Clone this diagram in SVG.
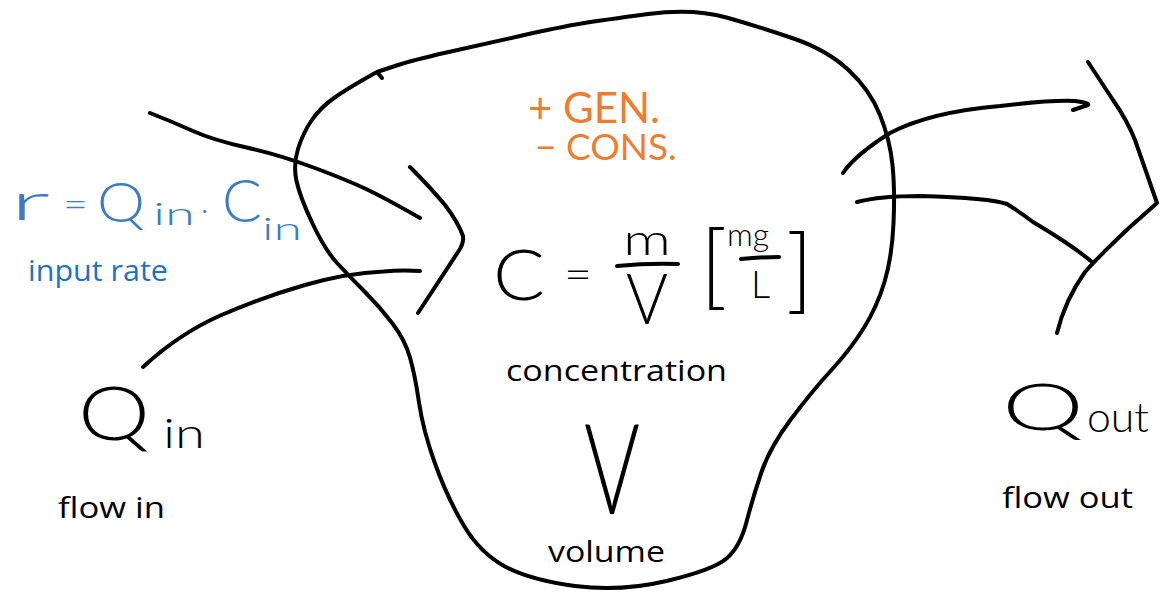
<svg xmlns="http://www.w3.org/2000/svg" width="1160" height="595" viewBox="0 0 1160 595">
<style>
  .ink { fill: none; stroke: #000; stroke-width: 4; stroke-linecap: round; stroke-linejoin: round; }
  .hand { font-family: "Lato", "Noto Sans", sans-serif; font-weight: 300; }
  .hk { fill: #000; }
  .hb { fill: #3c7cc0; }
  .ho { fill: #ed7d31; font-weight: 400; }
  .print { font-family: "Open Sans", "Noto Sans", "Liberation Sans", sans-serif; font-size: 30px; fill: #000; }
  .blue { fill: #1f72c0; }
</style>
<rect width="1160" height="595" fill="#fff"/>

<g id="control-volume">
  <path class="ink" d="M377,72 L395,66 Q413,60 446.5,52.5 Q480,45 520,36 Q560,27 581.5,23.5 Q603,20 648,14 Q693,8 726.5,17.5 Q760,27 793.5,38.5 Q827,50 848.5,70 Q870,90 880,115 Q890,140 892.5,165 Q895,190 893.5,223.5 Q892,257 884.5,282 Q877,307 863.5,328.5 Q850,350 831.5,370 Q813,390 791.5,418.5 Q770,447 761.5,472 Q753,497 746.5,522 Q740,547 726.5,558.5 Q713,570 666.5,581 Q620,592 575,586 Q530,580 505,566.5 Q480,553 463.5,525 Q447,497 435,463.5 Q423,430 419,402.5 Q415,375 410,357.5 Q405,340 392.5,323.5 Q380,307 365,292 Q350,277 337.5,263.5 Q325,250 312.5,223.5 Q300,197 296.5,181 Q293,165 298,149 Q303,133 311.5,120.5 Q320,108 334,98 Q348,88 377,72 L382,78"/>
</g>

<g id="connectors">
  <g id="inflow-arrow">
    <path class="ink" d="M150,113 Q173,122 193,131 Q213,140 246.5,147.5 Q280,155 313.5,167.5 Q347,180 366,189 Q385,198 420,218"/>
    <path class="ink" d="M143,367 Q180,333 221.5,315 Q263,297 305,285 Q347,273 383.5,271.5 Q400,270 420,271"/>
    <path class="ink" d="M410,167 Q430,187 445,205 Q458,222 463,236 Q464,244 458,252 L418,313"/>
  </g>
  <g id="outflow-arrow">
    <path class="ink" d="M843,173 Q855,155 890,133 Q930,112 1000,106 Q1050,100 1075,101 Q1090,103 1088,105 L1073,110"/>
    <path class="ink" d="M857,202 Q880,196 920,196 Q990,198 1007,204 Q1020,212 1033,222 Q1050,232 1065,242 Q1080,252 1092,262"/>
    <path class="ink" d="M1088,62 L1113,100 Q1127,120 1135,140 L1157,203 L1130,227 Q1100,255 1085,272 Q1065,300 1057,333"/>
  </g>
</g>

<g id="input-rate">
  <text class="hand hb" x="10" y="220" font-size="52" textLength="40" lengthAdjust="spacingAndGlyphs">r</text>
  <text class="hand hb" x="63" y="218" font-size="40" textLength="25" lengthAdjust="spacingAndGlyphs">=</text>
  <text class="hand hb" x="97" y="222" font-size="56" textLength="48" lengthAdjust="spacingAndGlyphs">Q</text>
  <text class="hand hb" x="153" y="225" font-size="32" textLength="42" lengthAdjust="spacingAndGlyphs">in</text>
  <text class="hand hb" x="201" y="220" font-size="30">·</text>
  <text class="hand hb" x="222" y="222" font-size="60" textLength="40" lengthAdjust="spacingAndGlyphs">C</text>
  <text class="hand hb" x="262" y="240" font-size="32" textLength="40" lengthAdjust="spacingAndGlyphs">in</text>
  <text class="print blue" x="28" y="281" font-size="27" textLength="140" lengthAdjust="spacingAndGlyphs">input rate</text>
</g>

<g id="reactions">
  <text class="hand ho" font-size="42"><tspan x="528" y="123">+ GEN.</tspan><tspan x="535" y="160" font-size="37">− CONS.</tspan></text>
</g>

<g id="concentration">
  <text class="hand hk" x="493" y="300" font-size="70" textLength="52" lengthAdjust="spacingAndGlyphs">C</text>
  <text class="hand hk" x="564" y="290" font-size="44" textLength="28" lengthAdjust="spacingAndGlyphs">=</text>
  <text class="hand hk" x="623" y="255" font-size="44" textLength="48" lengthAdjust="spacingAndGlyphs">m</text>
  <path class="ink" d="M617,266 Q648,263 678,264"/>
  <text class="hand hk" x="626" y="324" font-size="70" textLength="42" lengthAdjust="spacingAndGlyphs">V</text>
  <text class="hand hk" font-size="32"><tspan x="700" y="298" font-size="92">[</tspan><tspan x="727" y="246">mg</tspan><tspan x="751" y="298" font-size="38">L</tspan><tspan x="786" y="302" font-size="92">]</tspan></text>
  <path class="ink" d="M741,259 Q760,257 779,257"/>
  <text class="print" x="506" y="381" font-size="31" textLength="221" lengthAdjust="spacingAndGlyphs">concentration</text>
</g>

<g id="volume">
  <text class="hand hk" x="584" y="514" font-size="126" textLength="56" lengthAdjust="spacingAndGlyphs">V</text>
  <text class="print" x="548" y="562" font-size="31" textLength="117" lengthAdjust="spacingAndGlyphs">volume</text>
</g>

<g id="flow-in">
  <text class="hand hk" x="78" y="440" font-size="74" textLength="72" lengthAdjust="spacingAndGlyphs">Q</text>
  <text class="hand hk" x="163" y="448" font-size="42" textLength="42" lengthAdjust="spacingAndGlyphs">in</text>
  <text class="print" x="58" y="518" font-size="31" textLength="107" lengthAdjust="spacingAndGlyphs">flow in</text>
</g>

<g id="flow-out">
  <text class="hand hk" x="1002" y="430" font-size="66" textLength="82" lengthAdjust="spacingAndGlyphs">Q</text>
  <text class="hand hk" x="1087" y="432" font-size="42" textLength="62" lengthAdjust="spacingAndGlyphs">out</text>
  <text class="print" x="1002" y="508" font-size="31" textLength="131" lengthAdjust="spacingAndGlyphs">flow out</text>
</g>
</svg>
